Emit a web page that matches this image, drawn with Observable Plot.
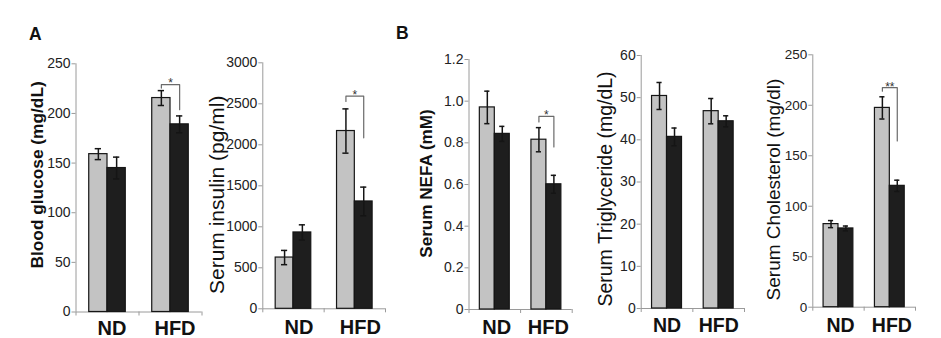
<!DOCTYPE html>
<html>
<head>
<meta charset="utf-8">
<script src="https://cdn.jsdelivr.net/npm/d3@7"></script>
<script src="https://cdn.jsdelivr.net/npm/@observablehq/plot@0.6"></script>
<style>
  html, body { margin: 0; padding: 0; background: #fff; }
  #wrap { position: relative; width: 941px; height: 338px; overflow: hidden; font-family: "Liberation Sans", Arial, sans-serif; }
  .pnl { position: absolute; top: 0; }
  .tag { position: absolute; font-weight: bold; font-size: 17.5px; color: #111; line-height: 1; }
</style>
</head>
<body>
<div id="wrap"></div>
<script>
// ---------- data ----------
const groups = ["ND", "HFD"];

// Blood glucose (mg/dL)
const glucoseTitle = "Blood glucose (mg/dL)";
const glucoseTicks = [0, 50, 100, 150, 200, 250];
const glucoseCtrl = [159, 215.5];
const glucoseCtrlErr = [5.5, 7.5];
const glucoseTrt = [145, 189];
const glucoseTrtErr = [11, 8.5];
const glucoseSig = [229, 225.5, 203.7];
const glucoseSigLabel = "*";

// Serum insulin (pg/ml)
const insulinTitle = "Serum insulin (pg/ml)";
const insulinTicks = [0, 500, 1000, 1500, 2000, 2500, 3000];
const insulinCtrl = [625, 2168];
const insulinCtrlErr = [87, 270];
const insulinTrt = [931, 1309];
const insulinTrtErr = [93, 175];
const insulinSig = [2593, 2528, 2085];
const insulinSigLabel = "*";

// Serum NEFA (mM)
const nefaTitle = "Serum NEFA (mM)";
const nefaTicks = [0, 0.2, 0.4, 0.6, 0.8, 1.0, 1.2];
const nefaCtrl = [0.97, 0.815];
const nefaCtrlErr = [0.078, 0.058];
const nefaTrt = [0.843, 0.601];
const nefaTrtErr = [0.036, 0.043];
const nefaSig = [0.927, 0.9, 0.78];
const nefaSigLabel = "*";

// Serum Triglyceride (mg/dL)
const tgTitle = "Serum Triglyceride (mg/dL)";
const tgTicks = [0, 10, 20, 30, 40, 50, 60];
const tgCtrl = [50.4, 46.8];
const tgCtrlErr = [3.2, 3.0];
const tgTrt = [40.7, 44.4];
const tgTrtErr = [2.1, 1.3];

// Serum Cholesterol (mg/dl)
const cholTitle = "Serum Cholesterol (mg/dl)";
const cholTicks = [0, 50, 100, 150, 200, 250];
const cholCtrl = [82.3, 197.4];
const cholCtrlErr = [3.5, 11];
const cholTrt = [78, 120.2];
const cholTrtErr = [2.4, 5.6];
const cholSig = [217.4, 214, 164.7];
const cholSigLabel = "**";

// ---------- layout (styles only) ----------
const layout = [
  {left: 0,   width: 215, mL: 75.5, mR: 13.5, mT: 63.3, mB: 26.5, tickFont: 14,   titleSize: 17.3, titleWeight: "bold",   tdx: -39,  tdy: -13, catDx: 4.5, catDy: 17, catSize: 20},
  {left: 215, width: 185, mL: 47.3, mR: 15,   mT: 62.3, mB: 29.7, tickFont: 14,   titleSize: 21,   titleWeight: "normal", tdx: -46,  tdy: 9,   catDx: 5.5, catDy: 18.4, catSize: 20},
  {left: 400, width: 190, mL: 68.5, mR: 18.3, mT: 59,   mB: 29,   tickFont: 14,   titleSize: 17.1, titleWeight: "bold",   tdx: -42.5,tdy: -1,  catDx: 2,   catDy: 18, catSize: 20},
  {left: 590, width: 170, mL: 50.7, mR: 16,   mT: 55,   mB: 30,   tickFont: 14,   titleSize: 19.5, titleWeight: "normal", tdx: -35,  tdy: 7,   catDx: 0,   catDy: 17, catSize: 19.5},
  {left: 760, width: 181, mL: 52.3, mR: 26,   mT: 54.3, mB: 31.3, tickFont: 13.5, titleSize: 19,   titleWeight: "normal", tdx: -39,  tdy: 8.5, catDx: 2,   catDy: 18.3, catSize: 19.5}
];

const panels = [
  {title: glucoseTitle, ticks: glucoseTicks, ctrl: glucoseCtrl, ctrlErr: glucoseCtrlErr, trt: glucoseTrt, trtErr: glucoseTrtErr, sig: glucoseSig, sigLabel: glucoseSigLabel, fmt: d => String(d)},
  {title: insulinTitle, ticks: insulinTicks, ctrl: insulinCtrl, ctrlErr: insulinCtrlErr, trt: insulinTrt, trtErr: insulinTrtErr, sig: insulinSig, sigLabel: insulinSigLabel, fmt: d => String(d)},
  {title: nefaTitle, ticks: nefaTicks, ctrl: nefaCtrl, ctrlErr: nefaCtrlErr, trt: nefaTrt, trtErr: nefaTrtErr, sig: nefaSig, sigLabel: nefaSigLabel, fmt: d => d === 0 ? "0" : d.toFixed(1)},
  {title: tgTitle, ticks: tgTicks, ctrl: tgCtrl, ctrlErr: tgCtrlErr, trt: tgTrt, trtErr: tgTrtErr, sig: null, sigLabel: null, fmt: d => String(d)},
  {title: cholTitle, ticks: cholTicks, ctrl: cholCtrl, ctrlErr: cholCtrlErr, trt: cholTrt, trtErr: cholTrtErr, sig: cholSig, sigLabel: cholSigLabel, fmt: d => String(d)}
];

const HALF = 0.145;   // half bar width in group units
const CAP = 0.05;     // half cap width
const AXIS = "#9a9a9a";
const FONT = "'Liberation Sans', Arial, Helvetica, sans-serif";

function makePanel(p, L) {
  const ctrlRows = groups.map((g, i) => ({g, pos: i + 0.5 - HALF, v: p.ctrl[i], e: p.ctrlErr[i]}));
  const trtRows = groups.map((g, i) => ({g, pos: i + 0.5 + HALF, v: p.trt[i], e: p.trtErr[i]}));
  const rows = ctrlRows.concat(trtRows);
  const yMax = p.ticks[p.ticks.length - 1];

  const marks = [
    Plot.ruleX([0], {y1: 0, y2: yMax, stroke: AXIS, strokeWidth: 1}),
    Plot.ruleY([0], {x1: 0, x2: 2, stroke: AXIS, strokeWidth: 1}),
    Plot.axisX({ticks: [0, 1, 2], tickSize: 4, tickFormat: () => "", stroke: AXIS, label: null}),
    Plot.axisY({ticks: p.ticks, tickSize: 4, tickPadding: 1.5, tickFormat: p.fmt, fontSize: L.tickFont, stroke: AXIS, fill: "#222", label: null}),
    Plot.rectY(ctrlRows, {x1: d => d.pos - HALF, x2: d => d.pos + HALF, y: "v", fill: "#c3c3c3", stroke: "#151515", strokeWidth: 1.2}),
    Plot.rectY(trtRows, {x1: d => d.pos - HALF, x2: d => d.pos + HALF, y: "v", fill: "#1e1e1e", stroke: "#151515", strokeWidth: 1.2}),
    Plot.ruleX(rows, {x: "pos", y1: d => d.v - d.e, y2: d => d.v + d.e, stroke: "#151515", strokeWidth: 1.5}),
    Plot.ruleY(rows, {y: d => d.v + d.e, x1: d => d.pos - CAP, x2: d => d.pos + CAP, stroke: "#151515", strokeWidth: 1.5}),
    Plot.ruleY(rows, {y: d => d.v - d.e, x1: d => d.pos - CAP, x2: d => d.pos + CAP, stroke: "#151515", strokeWidth: 1.5}),
    Plot.text(groups, {x: (d, i) => i + 0.5, y: 0, text: d => d, dx: L.catDx, dy: L.catDy, fontSize: L.catSize, fontWeight: "bold", fill: "#111"}),
    Plot.text([p.title], {frameAnchor: "left", textAnchor: "middle", rotate: -90, dx: L.tdx, dy: L.tdy, fontSize: L.titleSize, fontWeight: L.titleWeight, fill: "#111"})
  ];

  if (p.sig) {
    const [top, leftEnd, rightEnd] = p.sig;
    const xl = 1.5 - HALF, xr = 1.5 + HALF;
    const pts = [{x: xl, y: leftEnd}, {x: xl, y: top}, {x: xr, y: top}, {x: xr, y: rightEnd}];
    marks.push(Plot.line(pts, {x: "x", y: "y", stroke: "#6a6a6a", strokeWidth: 1.2}));
    marks.push(Plot.text([p.sigLabel], {x: 1.5, y: top, text: d => d, dy: -1, fontSize: 12, fill: "#333"}));
  }

  return Plot.plot({
    width: L.width,
    height: 338,
    marginLeft: L.mL,
    marginRight: L.mR,
    marginTop: L.mT,
    marginBottom: L.mB,
    x: {domain: [0, 2]},
    y: {domain: [0, yMax]},
    style: {fontFamily: FONT, background: "transparent", overflow: "visible", color: "#111"},
    marks
  });
}

const wrap = document.getElementById("wrap");
panels.forEach((p, k) => {
  const L = layout[k];
  const div = document.createElement("div");
  div.className = "pnl";
  div.style.left = L.left + "px";
  div.appendChild(makePanel(p, L));
  wrap.appendChild(div);
});

const tags = [{t: "A", left: 29, top: 26}, {t: "B", left: 396, top: 25}];
tags.forEach(o => {
  const s = document.createElement("div");
  s.className = "tag";
  s.textContent = o.t;
  s.style.left = o.left + "px";
  s.style.top = o.top + "px";
  wrap.appendChild(s);
});
</script>
</body>
</html>
